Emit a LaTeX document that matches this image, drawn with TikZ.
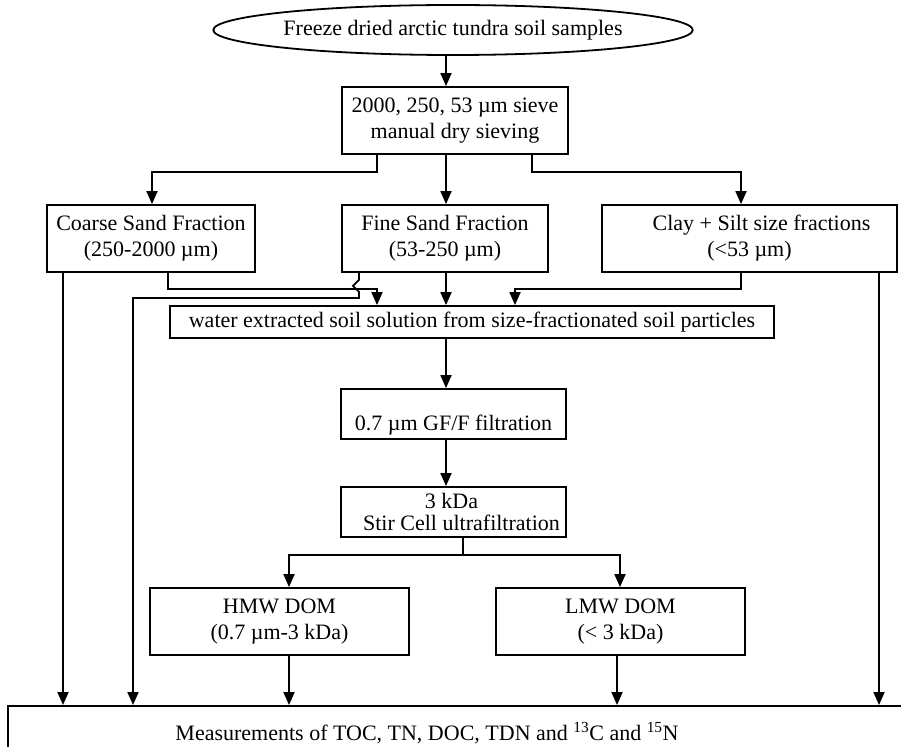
\documentclass[tikz,border=0pt]{standalone}
\usepackage{fontspec}
\setmainfont{Liberation Serif}
\usetikzlibrary{arrows.meta, positioning, shapes.geometric, calc}

\begin{document}
\begin{tikzpicture}[x=1pt, y=-1pt, line width=1.8pt,
    font=\fontsize{22}{26}\selectfont,
    box/.style={draw, rectangle, inner sep=0pt, align=center},
    arr/.style={-{Triangle[length=13pt, width=11pt]}}]

    \useasboundingbox (0,0) rectangle (901,746);

    \foreach \cx in {63,133,152,168,289,359,377,446,463,515,532,617,620,741,879}
      \coordinate (c\cx) at (\cx,0);

    \node[draw, ellipse, minimum width=474pt, minimum height=50pt, inner sep=0pt] (samples) at (453,30) {Freeze dried arctic tundra soil samples};
    \node[box, minimum width=226pt, minimum height=67pt] (sieve) at (455,120.5) {2000, 250, 53 µm sieve\\ manual dry sieving};

    \node[box, minimum width=208pt, minimum height=67pt] (coarse) at (151,238.5) {Coarse Sand Fraction\\ (250-2000 µm)};
    \node[box, minimum width=206pt, minimum height=67pt] (fine) at (445,238.5) {Fine Sand Fraction\\ (53-250 µm)};
    \node[box, minimum width=295pt, minimum height=67pt] (clay) at (749.5,238.5) {\hspace*{24pt}Clay + Silt size fractions\\ (<53 µm)};

    \node[box, minimum width=604pt, minimum height=32pt] (water) at (472,322) {water extracted soil solution from size-fractionated soil particles};
    \node[box, minimum width=225pt, minimum height=50pt, text height=38pt, text depth=6pt] (filt) at (453.5,414) {0.7 µm GF/F filtration};
    \node[box, minimum width=225pt, minimum height=50pt] (stir) at (453.5,512) {\hspace*{-4pt}3 kDa\\[-4pt] \hspace*{16pt}Stir Cell ultrafiltration};

    \node[box, minimum width=259pt, minimum height=67pt] (hmw) at (279.5,621.5) {HMW DOM\\ (0.7 µm-3 kDa)};
    \node[box, minimum width=249pt, minimum height=67pt] (lmw) at (620.5,621.5) {LMW DOM\\ (< 3 kDa)};

    \node[box, anchor=north west, minimum width=920pt, minimum height=60pt] (meas) at (7,705) {};
    \node (meastext) at (427,733) {Measurements of TOC, TN, DOC, TDN and \textsuperscript{13}C and \textsuperscript{15}N};

    \draw[arr] (samples.south -| c446) -- (sieve.north -| c446);
    \draw[arr] (sieve.south -| c377) -- ++(0,17) -| (coarse.north -| c152);
    \draw[arr] (sieve.south -| c446) -- (fine.north -| c446);
    \draw[arr] (sieve.south -| c532) -- ++(0,17) -| (clay.north -| c741);

    \draw[arr] (coarse.south -| c63) -- (meas.north -| c63);
    \draw[arr] (coarse.south -| c168) -- ++(0,16) -| (water.north -| c377);
    \draw[arr] (fine.south -| c359) -- ++(0,7) -- ++(-6,6) -- ++(6,6) -- ++(0,6) -| (meas.north -| c133);
    \draw[arr] (fine.south -| c446) -- (water.north -| c446);
    \draw[arr] (clay.south -| c741) -- ++(0,16) -| (water.north -| c515);
    \draw[arr] (clay.south -| c879) -- (meas.north -| c879);

    \draw[arr] (water.south -| c446) -- (filt.north -| c446);
    \draw[arr] (filt.south -| c446) -- (stir.north -| c446);
    \draw[arr] (stir.south -| c463) -- ++(0,17) -| (hmw.north -| c289);
    \draw[arr] (stir.south -| c463) -- ++(0,17) -| (lmw.north -| c620);

    \draw[arr] (hmw.south -| c289) -- (meas.north -| c289);
    \draw[arr] (lmw.south -| c617) -- (meas.north -| c617);
\end{tikzpicture}
\end{document}
